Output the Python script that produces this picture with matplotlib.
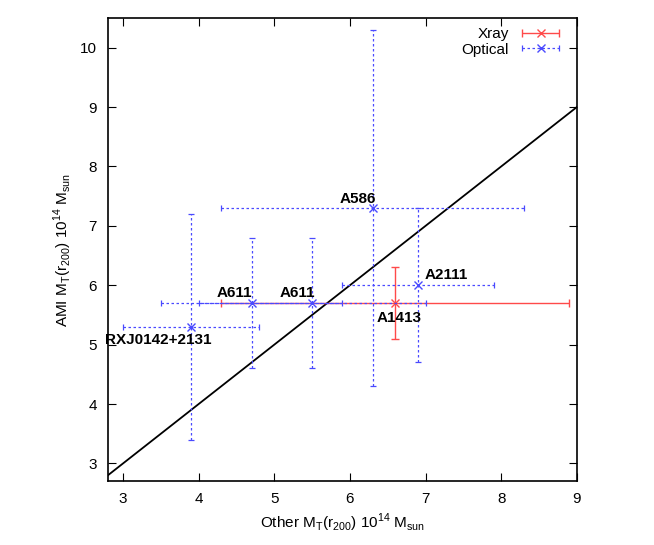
import matplotlib
matplotlib.use("Agg")
import matplotlib.pyplot as plt
from matplotlib.legend_handler import HandlerErrorbar
import numpy as np

plt.rcParams['font.family'] = ['Liberation Sans', 'DejaVu Sans']

# Xray data
xray_names = ["A1413"]
xray_x = [6.6]
xray_y = [5.7]
xray_xlo = [4.3]
xray_xhi = [8.9]
xray_ylo = [5.1]
xray_yhi = [6.3]

# Optical data
opt_names = ["RXJ0142+2131", "A611", "A611", "A586", "A2111"]
opt_x = [3.9, 4.7, 5.5, 6.3, 6.9]
opt_y = [5.3, 5.7, 5.7, 7.3, 6.0]
opt_xlo = [3.0, 3.5, 4.0, 4.3, 5.9]
opt_xhi = [4.8, 5.9, 7.0, 8.3, 7.9]
opt_ylo = [3.4, 4.6, 4.6, 4.3, 4.7]
opt_yhi = [7.2, 6.8, 6.8, 10.3, 7.3]

# label positions (data coords)
label_names = ["A611", "A611", "A586", "A2111", "A1413", "RXJ0142+2131"]
label_x = [4.47, 5.3, 6.1, 7.27, 6.65, 3.47]
label_y = [5.87, 5.87, 7.45, 6.18, 5.45, 5.08]

fig = plt.figure(figsize=(6.54, 5.45), dpi=100)
ax = fig.add_axes([0.165, 0.117, 0.717, 0.85])

xlim = (2.8, 9.0)
ylim = (2.7, 10.5)

red = '#ff4a4a'
blue = '#4a4aff'
dash = (0, (2, 2))

def err(v, lo, hi):
    v = np.array(v); lo = np.array(lo); hi = np.array(hi)
    return np.vstack([v - lo, hi - v])

ax.errorbar(xray_x, xray_y, xerr=err(xray_x, xray_xlo, xray_xhi),
            yerr=err(xray_y, xray_ylo, xray_yhi), fmt='x', color=red,
            ecolor=red, elinewidth=1.0, capsize=3, capthick=1.0,
            markersize=6, zorder=3)
e2 = ax.errorbar(opt_x, opt_y, xerr=err(opt_x, opt_xlo, opt_xhi),
                 yerr=err(opt_y, opt_ylo, opt_yhi), fmt='x', color=blue,
                 ecolor=blue, elinewidth=0.9, capsize=2.5, capthick=0.9,
                 markersize=6, zorder=4)
for bl in e2[2]:
    bl.set_linestyle(dash)

# legend proxies (horizontal bars only)
h1 = ax.errorbar([np.nan], [np.nan], xerr=[1], fmt='x', color=red, ecolor=red,
                 elinewidth=1.0, capsize=3, capthick=1.0, markersize=6, label='Xray')
h2 = ax.errorbar([np.nan], [np.nan], xerr=[1], fmt='x', color=blue, ecolor=blue,
                 elinewidth=0.9, capsize=2.5, capthick=0.9, markersize=6, label='Optical')
for bl in h2[2]:
    bl.set_linestyle(dash)

xs = np.array(xlim)
ax.plot(xs, xs, color='black', linewidth=1.3, zorder=2)

for n, x, y in zip(label_names, label_x, label_y):
    ax.text(x, y, n, fontsize=11, fontweight='bold', ha='center', va='center', zorder=5)

ax.set_xlim(*xlim)
ax.set_ylim(*ylim)
ax.set_xticks(range(3, 10))
ax.set_yticks(range(3, 11))
ax.tick_params(direction='in', length=6, top=True, right=True, labelsize=11, pad=8)
for s in ax.spines.values():
    s.set_linewidth(1.2)

ax.set_xlabel(r'Other M$_\mathregular{T}$(r$_\mathregular{200}$) 10$^\mathregular{14}$ M$_\mathregular{sun}$', fontsize=11)
ax.set_ylabel(r'AMI M$_\mathregular{T}$(r$_\mathregular{200}$) 10$^\mathregular{14}$ M$_\mathregular{sun}$', fontsize=11)

hm = HandlerErrorbar(xerr_size=1.2)
ax.legend(handles=[h1, h2], loc='upper right', frameon=False, markerfirst=False, fontsize=11,
          handlelength=2.6, borderaxespad=0.2, labelspacing=0.1, handletextpad=0.8,
          bbox_to_anchor=(0.985, 1.0), handler_map={type(h1): hm})

fig.savefig('out.png', dpi=100)
